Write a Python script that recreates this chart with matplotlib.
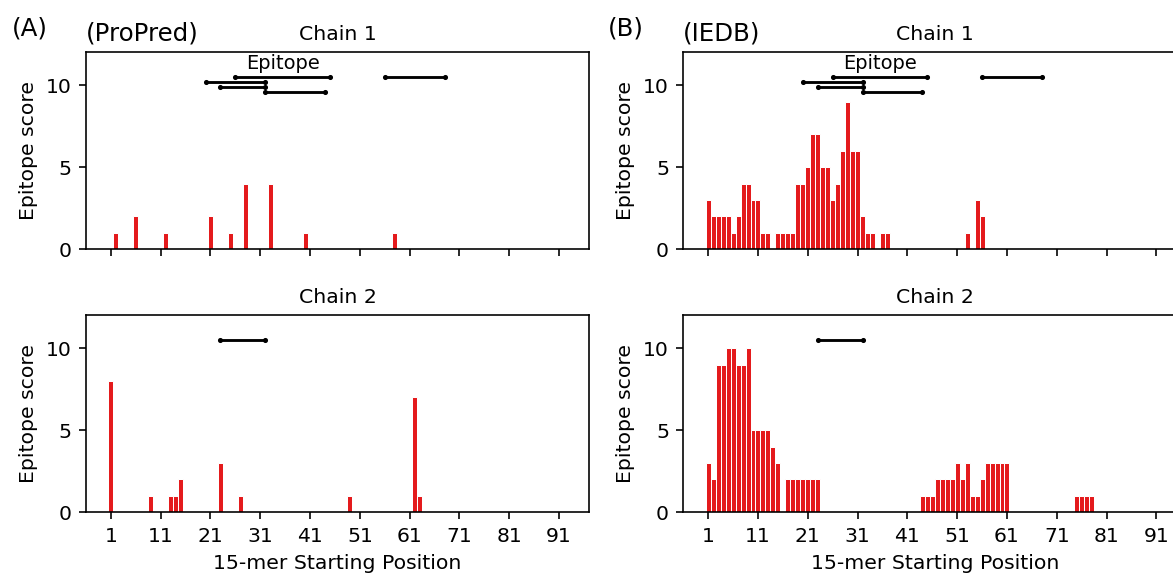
import numpy as np
import matplotlib
matplotlib.use('Agg')
import matplotlib.pyplot as plt

# ProPred scores (15-mer start position -> score)
propred_c1_pos = [2, 6, 12, 21, 25, 28, 33, 40, 58]
propred_c1_val = [1, 2, 1, 2, 1, 4, 4, 1, 1]
propred_c2_pos = [1, 9, 13, 14, 15, 23, 27, 49, 62, 63]
propred_c2_val = [8, 1, 1, 1, 2, 3, 1, 1, 7, 1]

# IEDB scores
iedb_c1_pos = [1, 2, 3, 4, 5, 6, 7, 8, 9, 10, 11, 12, 13, 15, 16, 17, 18, 19, 20,
               21, 22, 23, 24, 25, 26, 27, 28, 29, 30, 31, 32, 33, 34, 36, 37,
               53, 55, 56]
iedb_c1_val = [3, 2, 2, 2, 2, 1, 2, 4, 4, 3, 3, 1, 1, 1, 1, 1, 1, 4, 4,
               5, 7, 7, 5, 5, 3, 4, 6, 9, 6, 6, 2, 1, 1, 1, 1,
               1, 3, 2]
iedb_c2_pos = [1, 2, 3, 4, 5, 6, 7, 8, 9, 10, 11, 12, 13, 14, 15,
               17, 18, 19, 20, 21, 22, 23,
               44, 45, 46, 47, 48, 49, 50, 51, 52, 53, 54, 55, 56, 57, 58, 59, 60, 61,
               75, 76, 77, 78]
iedb_c2_val = [3, 2, 9, 9, 10, 10, 9, 9, 10, 5, 5, 5, 5, 4, 3,
               2, 2, 2, 2, 2, 2, 2,
               1, 1, 1, 2, 2, 2, 2, 3, 2, 3, 1, 1, 2, 3, 3, 3, 3, 3,
               1, 1, 1, 1]

# known epitope spans
epi_c1_start = [26, 20, 23, 32, 56]
epi_c1_end = [45, 32, 32, 44, 68]
epi_c1_y = [10.5, 10.2, 9.9, 9.6, 10.5]
epi_c2_start = [23]
epi_c2_end = [32]
epi_c2_y = [10.5]

xticks = list(range(1, 92, 10))
bar_color = '#e41a1c'

fig = plt.figure(figsize=(8, 579 / 146.625), dpi=146.625)

w, h = 0.4288, 0.3402
lefts = [0.0733, 0.5825]
bottoms = [0.5694, 0.1152]

panels = [
    [(propred_c1_pos, propred_c1_val, epi_c1_start, epi_c1_end, epi_c1_y),
     (propred_c2_pos, propred_c2_val, epi_c2_start, epi_c2_end, epi_c2_y)],
    [(iedb_c1_pos, iedb_c1_val, epi_c1_start, epi_c1_end, epi_c1_y),
     (iedb_c2_pos, iedb_c2_val, epi_c2_start, epi_c2_end, epi_c2_y)],
]
sources = ['(ProPred)', '(IEDB)']

for col in range(2):
    for row in range(2):
        pos, val, s, e, ys = panels[col][row]
        ax = fig.add_axes([lefts[col], bottoms[row], w, h])
        ax.bar(pos, val, width=1, color=bar_color, edgecolor='white', linewidth=0.5)
        for a, b, y in zip(s, e, ys):
            ax.plot([a, b], [y, y], color='black', lw=1.4, marker='o', ms=1.5)
        if row == 0:
            ax.text((s[0] + e[0]) / 2, 11.3, 'Epitope', ha='center', va='center', fontsize=9.5)
        ax.set_xlim(-4, 97)
        ax.set_ylim(0, 12)
        ax.set_xticks(xticks)
        ax.set_yticks([0, 5, 10])
        ax.set_ylabel('Epitope score')
        ax.set_title('Chain %d' % (row + 1), fontsize=10)
        if row == 0:
            ax.set_title(sources[col], loc='left', fontsize=12)
            ax.set_xticklabels([])
        else:
            ax.set_xlabel('15-mer Starting Position')

fig.text(0.0102, 0.9395, '(A)', fontsize=12, va='baseline')
fig.text(0.5186, 0.9395, '(B)', fontsize=12, va='baseline')

fig.savefig('out.png', dpi=146.625)
